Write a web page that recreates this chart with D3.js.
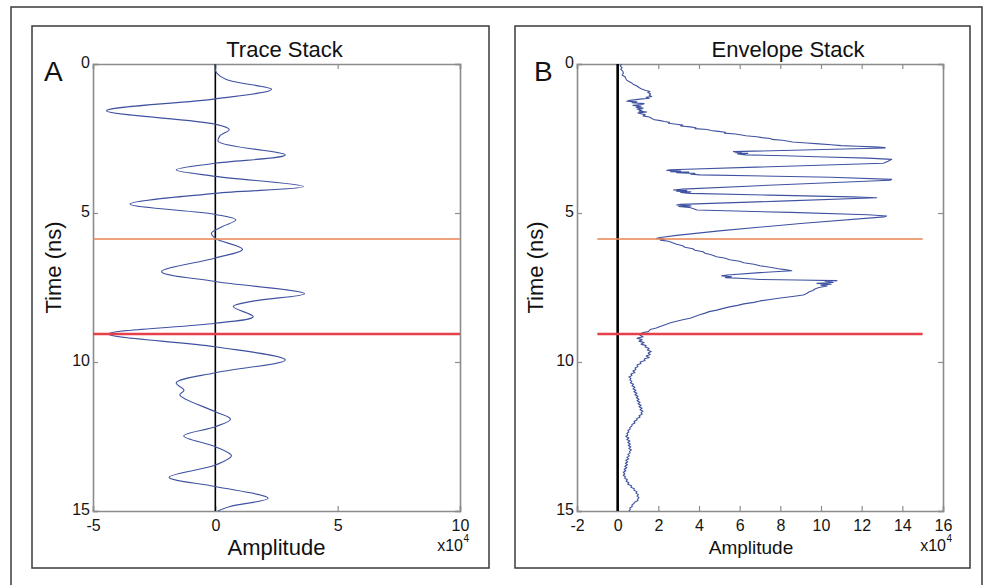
<!DOCTYPE html>
<html>
<head>
<meta charset="utf-8">
<script src="https://cdn.jsdelivr.net/npm/d3@7"></script>
<style>
  html, body { margin: 0; padding: 0; background: #fff; }
  svg { display: block; font-family: "Liberation Sans", Arial, Helvetica, sans-serif; }
</style>
</head>
<body>
<svg id="chart" width="994" height="585"></svg>
<script>
// ---------------- DATA ----------------
const timeTicks = [0, 5, 10, 15];
const traceXTicks = [-5, 0, 5, 10];
const envXTicks = [-2, 0, 2, 4, 6, 8, 10, 12, 14, 16];
const markerTimes = [5.87, 9.06];         // orange, red horizons (ns)
const panelTitles = ["Trace Stack", "Envelope Stack"];
const panelLetters = ["A", "B"];

// Trace stack: [time (ns), amplitude (x10^4)]
const tracePoints = [
  [0.00, 0.00], [0.27, 0.03], [0.52, 0.45], [0.85, 2.30], [1.17, 0.00],
  [1.57, -4.45], [2.02, 0.00], [2.20, 0.57], [2.42, 0.18], [2.60, 0.12],
  [3.05, 2.86], [3.33, 0.00], [3.55, -1.60], [3.77, 0.00], [4.11, 3.60],
  [4.34, 0.00], [4.70, -3.49], [5.05, 0.00], [5.23, 0.84], [5.47, 0.25],
  [5.68, -0.16], [5.85, 0.00], [6.22, 1.11], [6.51, 0.00], [6.97, -2.20],
  [7.30, 0.00], [7.71, 3.65], [7.95, 1.60], [8.14, 0.73], [8.48, 1.55],
  [8.70, 0.00], [9.06, -4.38], [9.49, 0.00], [9.93, 2.86], [10.36, 0.00],
  [10.70, -1.60], [10.95, -1.28], [11.10, -1.45], [11.67, 0.00], [11.92, 0.62],
  [12.17, 0.00], [12.48, -1.29], [12.84, 0.00], [13.15, 0.66], [13.46, 0.00],
  [13.87, -1.89], [14.18, 0.00], [14.57, 2.16], [14.85, 0.60], [15.00, 0.10]
];

// Envelope stack: [time (ns), amplitude (x10^4)]
const envelopePoints = [
  [0.00,0.20],[0.06,0.12],[0.12,0.22],[0.18,0.15],[0.24,0.25],[0.31,0.28],[0.37,0.22],[0.43,0.36],
  [0.49,0.40],[0.54,0.44],[0.59,0.55],[0.64,0.70],[0.69,0.78],[0.74,0.95],[0.79,1.05],[0.83,1.15],
  [0.88,1.35],[0.92,1.59],[0.96,1.48],[1.00,1.62],[1.05,1.55],[1.09,1.67],[1.12,1.40],[1.15,1.55],
  [1.18,1.10],[1.22,0.60],[1.25,0.45],[1.27,0.95],[1.30,0.70],[1.33,1.30],[1.36,1.20],[1.39,0.75],
  [1.42,1.15],[1.45,0.90],[1.48,1.25],[1.51,0.95],[1.55,1.20],[1.58,1.05],[1.61,1.43],[1.64,1.00],
  [1.67,1.15],[1.70,1.35],[1.74,1.25],[1.78,1.55],[1.82,1.67],[1.86,1.75],[1.90,2.10],[1.93,2.30],
  [1.96,2.55],[1.99,2.50],[2.02,2.90],[2.05,3.20],[2.08,3.10],[2.11,3.56],[2.14,3.85],[2.17,3.80],
  [2.20,4.40],[2.23,4.60],[2.26,4.95],[2.29,5.30],[2.32,5.25],[2.35,5.80],[2.38,6.10],[2.41,6.30],
  [2.44,6.84],[2.47,7.10],[2.50,7.50],[2.53,7.60],[2.56,8.10],[2.59,8.40],[2.62,8.60],[2.65,9.30],
  [2.68,9.90],[2.71,10.50],[2.74,11.00],[2.76,11.80],[2.78,12.60],[2.80,13.15],[2.82,13.15],
  [2.94,5.69],[2.96,6.10],[2.98,5.80],[3.00,6.40],[3.02,5.90],[3.05,6.30],[3.08,8.20],[3.12,10.20],
  [3.16,12.30],[3.20,13.48],[3.26,13.30],[3.33,13.07],
  [3.55,2.60],[3.57,2.42],[3.59,3.10],[3.61,2.60],[3.63,3.50],[3.65,2.90],[3.67,3.80],[3.70,3.60],
  [3.72,4.05],[3.80,10.50],[3.87,13.48],[3.90,13.40],
  [4.05,8.00],[4.20,3.20],[4.23,2.74],[4.25,3.40],[4.27,2.90],[4.29,3.60],[4.31,3.10],[4.34,3.56],
  [4.40,7.50],[4.46,11.50],[4.49,12.74],
  [4.60,8.00],[4.71,3.10],[4.73,2.90],[4.76,3.60],[4.78,3.00],[4.81,3.50],[4.85,3.70],[4.90,3.90],
  [4.98,8.50],[5.06,12.30],[5.10,13.23],[5.13,13.10],
  [5.35,9.00],[5.60,5.00],[5.75,2.90],[5.82,2.10],[5.85,1.92],[5.88,2.30],[5.91,2.10],[5.95,2.50],
  [6.00,2.70],[6.05,2.90],[6.10,3.20],[6.15,3.30],[6.20,3.70],[6.25,3.80],[6.30,4.20],[6.35,4.30],
  [6.40,4.60],[6.47,4.87],[6.52,5.30],[6.57,5.50],[6.62,6.00],[6.67,6.20],[6.72,6.70],[6.77,7.00],
  [6.82,7.50],[6.87,7.90],[6.91,8.30],[6.94,8.56],
  [7.00,7.00],[7.08,5.40],[7.11,5.12],[7.14,5.60],[7.17,5.30],[7.20,6.20],[7.23,7.00],[7.25,8.80],
  [7.27,10.78],[7.30,10.20],[7.33,10.60],[7.36,9.80],[7.39,10.50],[7.42,10.00],[7.45,10.30],[7.50,9.90],
  [7.55,9.70],[7.60,9.60],[7.65,9.40],[7.70,9.30],[7.75,9.13],[7.80,8.60],[7.85,8.00],[7.90,7.50],
  [7.95,7.00],[8.00,6.70],[8.05,6.20],[8.10,5.90],[8.15,5.50],[8.20,5.20],[8.26,4.87],[8.31,4.50],
  [8.36,4.30],[8.42,4.00],[8.47,3.80],[8.53,3.56],[8.58,3.20],[8.63,2.90],[8.68,2.60],[8.73,2.40],
  [8.78,2.20],[8.81,2.09],[8.86,1.90],[8.91,1.60],[8.95,1.55],[8.98,1.51],
  [9.02,1.20],[9.06,1.25],[9.10,1.10],[9.15,1.25],[9.20,0.95],[9.25,1.20],[9.30,1.05],[9.35,1.30],
  [9.40,1.15],[9.45,1.40],[9.50,1.35],[9.55,1.55],[9.60,1.45],[9.65,1.65],[9.70,1.50],[9.75,1.60],
  [9.80,1.40],[9.85,1.55],[9.90,1.30],[9.95,1.35],[10.00,1.10],[10.05,1.15],[10.10,0.95],[10.15,1.00],
  [10.20,0.85],[10.25,0.90],[10.30,0.75],[10.35,0.85],[10.40,0.65],[10.45,0.70],[10.50,0.55],[10.55,0.65],
  [10.60,0.60],[10.65,0.70],[10.70,0.62],[10.75,0.78],[10.80,0.70],[10.85,0.85],[10.90,0.75],[10.95,0.90],
  [11.00,0.80],[11.05,0.95],[11.10,0.85],[11.15,1.00],[11.20,0.92],[11.25,1.05],[11.30,0.95],[11.35,1.10],
  [11.40,1.00],[11.45,1.15],[11.50,1.05],[11.55,1.20],[11.60,1.10],[11.65,1.25],[11.70,1.15],[11.75,1.20],
  [11.80,1.05],[11.85,1.10],[11.90,0.94],[11.95,0.95],[12.00,0.80],[12.05,0.85],[12.10,0.70],[12.15,0.70],
  [12.20,0.60],[12.25,0.62],[12.30,0.50],[12.35,0.55],[12.40,0.45],[12.45,0.50],[12.50,0.40],[12.55,0.55],
  [12.60,0.45],[12.65,0.60],[12.70,0.50],[12.75,0.62],[12.80,0.52],[12.85,0.65],[12.90,0.55],[12.95,0.68],
  [13.00,0.58],[13.05,0.62],[13.10,0.50],[13.15,0.58],[13.20,0.45],[13.25,0.55],[13.30,0.40],[13.35,0.50],
  [13.40,0.38],[13.45,0.48],[13.50,0.35],[13.55,0.45],[13.60,0.32],[13.65,0.40],[13.70,0.28],[13.75,0.35],
  [13.80,0.28],[13.85,0.38],[13.90,0.35],[13.95,0.48],[14.00,0.42],[14.05,0.55],[14.10,0.50],[14.15,0.68],
  [14.20,0.65],[14.25,0.82],[14.30,0.80],[14.35,0.95],[14.40,0.90],[14.45,1.02],[14.50,0.95],[14.55,1.05],
  [14.60,0.98],[14.65,1.00],[14.70,0.85],[14.75,0.80],[14.80,0.70],[14.85,0.72],[14.90,0.60],[14.95,0.62],
  [15.00,0.55]
];

// ---------------- LAYOUT ----------------
const svg = d3.select("#chart");
const FONT = '"Liberation Sans", Arial, Helvetica, sans-serif';
const AXIS_GRAY = "#8c8c8c";
const TRACE_BLUE = "#3f52a0";
const ORANGE = "#ea8450";
const RED = "#e6404a";
const fmt = d => String(d);   // plain hyphen-minus like the original

// outer frame
svg.append("rect").attr("x", 11).attr("y", 7).attr("width", 971).attr("height", 600)
  .attr("fill", "none").attr("stroke", "#3a3a3a").attr("stroke-width", 1.5);

const panels = [
  { box: [32, 26, 489, 568], plot: [93, 64, 460, 511], xDomain: [-5, 10], xTicks: traceXTicks,
    data: tracePoints, curve: d3.curveCatmullRom.alpha(0.5), zeroW: 1.6, markerX: [-5, 10],
    title: panelTitles[0], titleDx: 8, letter: panelLetters[0], letterPos: [44, 81],
    ylabX: 61, xlabSize: 22, xlabDx: 0, xlabY: 555, lineW: 1.1 },
  { box: [515, 26, 970, 568], plot: [577, 64, 943, 511], xDomain: [-2, 16], xTicks: envXTicks,
    data: envelopePoints, curve: d3.curveLinear, zeroW: 2.6, markerX: [-1, 15],
    title: panelTitles[1], titleDx: 28, letter: panelLetters[1], letterPos: [534, 81],
    ylabX: 543, xlabSize: 19, xlabDx: -9, xlabY: 554, lineW: 1.1 }
];

panels.forEach(p => {
  const [bx0, by0, bx1, by1] = p.box;
  const [px0, py0, px1, py1] = p.plot;
  svg.append("rect").attr("x", bx0).attr("y", by0).attr("width", bx1 - bx0).attr("height", by1 - by0)
    .attr("fill", "none").attr("stroke", "#3a3a3a").attr("stroke-width", 1.5);

  const x = d3.scaleLinear().domain(p.xDomain).range([px0, px1]);
  const y = d3.scaleLinear().domain([0, 15]).range([py0, py1]);

  const g = svg.append("g");

  // axes (MATLAB-style box with inward ticks)
  const axB = g.append("g").attr("transform", `translate(0,${py1})`)
    .call(d3.axisBottom(x).tickValues(p.xTicks).tickSize(-5).tickPadding(6).tickFormat(fmt));
  const axT = g.append("g").attr("transform", `translate(0,${py0})`)
    .call(d3.axisTop(x).tickValues(p.xTicks).tickSize(-5).tickFormat(""));
  const axL = g.append("g").attr("transform", `translate(${px0},0)`)
    .call(d3.axisLeft(y).tickValues(timeTicks).tickSize(-5).tickPadding(3).tickFormat(fmt));
  const axR = g.append("g").attr("transform", `translate(${px1},0)`)
    .call(d3.axisRight(y).tickValues(timeTicks).tickSize(-5).tickFormat(""));
  [axB, axT, axL, axR].forEach(a => {
    a.select(".domain").attr("stroke", AXIS_GRAY).attr("stroke-width", 1.6);
    a.selectAll(".tick line").attr("stroke", AXIS_GRAY).attr("stroke-width", 1.2);
    a.selectAll(".tick text").attr("fill", "#151515").style("font-size", "16px").style("font-family", FONT);
  });
  axB.selectAll(".tick text").attr("dy", "0.85em");
  axL.selectAll(".tick text").attr("dy", "0.22em");

  // zero line
  g.append("line").attr("x1", x(0)).attr("x2", x(0)).attr("y1", y(0)).attr("y2", y(15))
    .attr("stroke", "#000").attr("stroke-width", p.zeroW);

  // data line
  const line = d3.line().x(d => x(d[1])).y(d => y(d[0])).curve(p.curve);
  g.append("path").datum(p.data).attr("d", line)
    .attr("fill", "none").attr("stroke", TRACE_BLUE).attr("stroke-width", p.lineW)
    .attr("stroke-linejoin", "round");

  // horizon markers
  markerTimes.forEach((t, i) => {
    g.append("line").attr("x1", x(p.markerX[0])).attr("x2", x(p.markerX[1]))
      .attr("y1", y(t)).attr("y2", y(t))
      .attr("stroke", i === 0 ? ORANGE : RED).attr("stroke-width", i === 0 ? 1.6 : 2.6);
  });

  // title
  svg.append("text").attr("x", (px0 + px1) / 2 + p.titleDx).attr("y", 57)
    .attr("text-anchor", "middle").style("font-size", "22px").style("font-family", FONT)
    .attr("fill", "#111").text(p.title);

  // panel letter
  svg.append("text").attr("x", p.letterPos[0]).attr("y", p.letterPos[1])
    .style("font-size", "28px").style("font-family", FONT).attr("fill", "#111").text(p.letter);

  // y label
  svg.append("text").attr("transform", `translate(${p.ylabX},${(py0 + py1) / 2 - 20}) rotate(-90)`)
    .attr("text-anchor", "middle").style("font-size", "22px").style("font-family", FONT)
    .attr("fill", "#111").text("Time (ns)");

  // x label
  svg.append("text").attr("x", (px0 + px1) / 2 + p.xlabDx).attr("y", p.xlabY)
    .attr("text-anchor", "middle").style("font-size", p.xlabSize + "px").style("font-family", FONT)
    .attr("fill", "#111").text("Amplitude");

  // exponent label x10^4 (below the last tick label)
  svg.append("text").attr("x", px1 + 3).attr("y", 551).attr("text-anchor", "end")
    .style("font-size", "16px").style("font-family", FONT).attr("fill", "#111").text("x10");
  svg.append("text").attr("x", px1 + 3.5).attr("y", 542)
    .style("font-size", "10px").style("font-family", FONT).attr("fill", "#111").text("4");
});
</script>
</body>
</html>
